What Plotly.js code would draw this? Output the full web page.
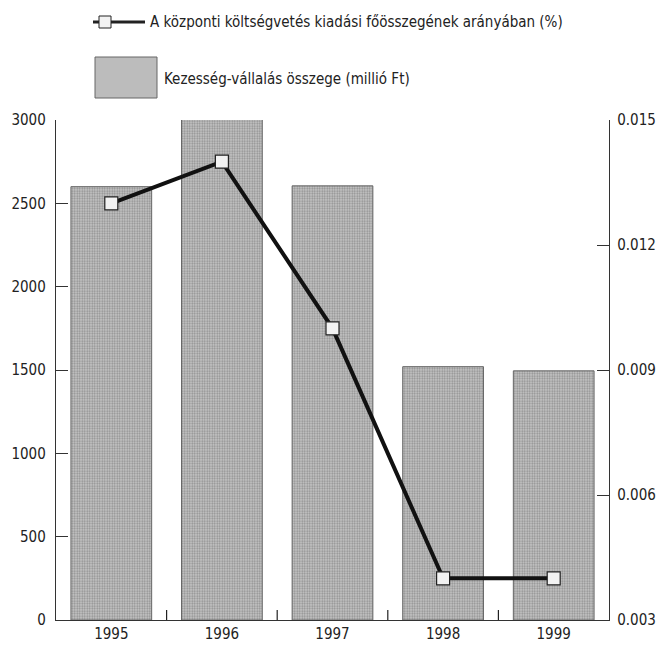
<!DOCTYPE html>
<html>
<head>
<meta charset="utf-8">
<script src="https://cdn.plot.ly/plotly-3.0.1.min.js"></script>
<style>html,body{margin:0;padding:0;background:#fff;}#chart{width:660px;height:648px;}</style>
</head>
<body>
<div id="chart"></div>
<script>
const years = [1995, 1996, 1997, 1998, 1999];
const guaranteeAmount = [2600, 3005, 2605, 1520, 1495];
const shareOfBudget = [0.0130, 0.0140, 0.0100, 0.0040, 0.0040];
const leftTicks = [0, 500, 1000, 1500, 2000, 2500, 3000];
const rightTicks = [0.003, 0.006, 0.009, 0.012, 0.015];
const rightTickText = ["0.003", "0.006", "0.009", "0.012", "0.015"];
const boundaryTicks = [1995.5, 1996.5, 1997.5, 1998.5];
const lineName = "A központi költségvetés kiadási főösszegének arányában (%)";
const barName = "Kezesség-vállalás összege (millió Ft)";

const FONT = "DejaVu Sans Condensed, Liberation Sans Narrow, sans-serif";
const L = 56, R = 609, T = 120, B = 620;
const px = x => (x - L) / (R - L);
const py = y => (B - y) / (B - T);

const bars = {
  type: "bar", x: years, y: guaranteeAmount, name: barName, yaxis: "y",
  width: 0.73,
  marker: {
    color: "#bcbcbc",
    line: {color: "#666", width: 1},
    pattern: {shape: ".", fgcolor: "#8e8e8e", bgcolor: "#c8c8c8", size: 2.5, solidity: 0.45}
  },
  showlegend: false, hoverinfo: "x+y"
};
const line = {
  type: "scatter", mode: "lines+markers", x: years, y: shareOfBudget, name: lineName, yaxis: "y2",
  line: {color: "#111", width: 4},
  marker: {symbol: "square", size: 13, color: "#f2f2f2", line: {color: "#222", width: 1.2}},
  showlegend: false
};

const boundaryTickShapes = boundaryTicks.map(b => ({
  type: "line", xref: "x", yref: "paper", x0: b, x1: b, y0: 0, y1: py(610),
  line: {color: "#222", width: 1.2}
}));

const layout = {
  width: 660, height: 648,
  margin: {l: L, r: 660 - R, t: T, b: 648 - B},
  paper_bgcolor: "#fff", plot_bgcolor: "#fff",
  font: {family: FONT, size: 14, color: "#222"},
  xaxis: {
    type: "linear", range: [1994.5, 1999.5],
    tickmode: "array", tickvals: years, ticktext: years.map(String),
    showline: true, linecolor: "#333", linewidth: 1,
    ticks: "", showgrid: false, zeroline: false,
    tickfont: {family: FONT, size: 15, color: "#222"}
  },
  yaxis: {
    range: [0, 3000], tickvals: leftTicks,
    showline: true, linecolor: "#333", linewidth: 1.2,
    ticks: "inside", ticklen: 12, tickcolor: "#333",
    showgrid: false, zeroline: false, ticklabelstandoff: 6,
    tickfont: {family: FONT, size: 15, color: "#222"}
  },
  yaxis2: {
    overlaying: "y", side: "right", range: [0.003, 0.015],
    tickvals: rightTicks, ticktext: rightTickText,
    showline: true, linecolor: "#333", linewidth: 1.2,
    ticks: "inside", ticklen: 12, tickcolor: "#333",
    showgrid: false, zeroline: false, ticklabelstandoff: 4,
    tickfont: {family: FONT, size: 15, color: "#222"}
  },
  shapes: boundaryTickShapes.concat([
    {type: "line", xref: "paper", yref: "paper", x0: px(93), x1: px(145), y0: py(22), y1: py(22),
     line: {color: "#222", width: 3}},
    {type: "rect", xref: "paper", yref: "paper", x0: px(99), x1: px(111), y0: py(16), y1: py(28),
     fillcolor: "#f2f2f2", line: {color: "#222", width: 1}},
    {type: "rect", xref: "paper", yref: "paper", x0: px(95), x1: px(157), y0: py(57), y1: py(98),
     fillcolor: "#bcbcbc", line: {color: "#666", width: 1}}
  ]),
  annotations: [
    {xref: "paper", yref: "paper", x: px(148), y: py(22), xanchor: "left", yanchor: "middle",
     text: lineName, showarrow: false, font: {family: FONT, size: 15, color: "#222"}},
    {xref: "paper", yref: "paper", x: px(162), y: py(79), xanchor: "left", yanchor: "middle",
     text: barName, showarrow: false, font: {family: FONT, size: 15, color: "#222"}}
  ]
};

Plotly.newPlot("chart", [bars, line], layout, {staticPlot: true, displayModeBar: false});
</script>
</body>
</html>
